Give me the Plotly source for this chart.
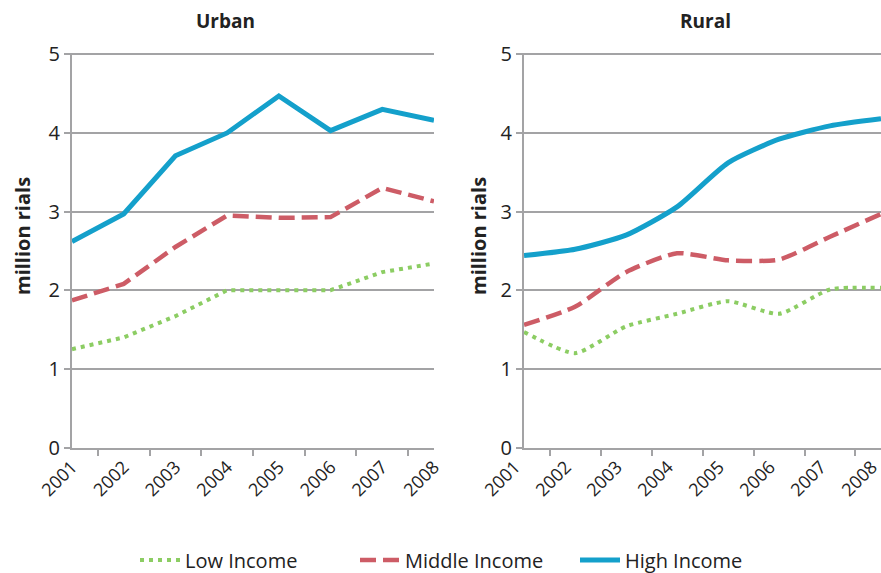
import plotly.graph_objects as go
from plotly.subplots import make_subplots

years = ['2001', '2002', '2003', '2004', '2005', '2006', '2007', '2008']

urban_low = [1.25, 1.40, 1.67, 2.00, 2.00, 2.00, 2.23, 2.34]
urban_middle = [1.87, 2.08, 2.55, 2.95, 2.92, 2.93, 3.30, 3.13]
urban_high = [2.62, 2.97, 3.71, 4.00, 4.47, 4.03, 4.30, 4.16]

rural_low = [1.47, 1.20, 1.54, 1.70, 1.86, 1.70, 2.01, 2.03]
rural_middle = [1.56, 1.79, 2.23, 2.47, 2.38, 2.39, 2.68, 2.97]
rural_high = [2.44, 2.52, 2.70, 3.06, 3.62, 3.92, 4.09, 4.18]

series_names = ['Low Income', 'Middle Income', 'High Income']

GREEN = '#8ccd63'
RED = '#cd5c66'
BLUE = '#14a0cb'
GRID = '#a3a3a5'
FONT = 'Open Sans'

styles = [
    dict(color=GREEN, width=4, dash='4px,5px'),
    dict(color=RED, width=4.5, dash='16px,7px'),
    dict(color=BLUE, width=5, dash='solid'),
]

fig = make_subplots(rows=1, cols=2)

panels = [
    (1, [urban_low, urban_middle, urban_high], 'linear'),
    (2, [rural_low, rural_middle, rural_high], 'spline'),
]
for col, data, shape in panels:
    for name, vals, st in zip(series_names, data, styles):
        fig.add_trace(
            go.Scatter(
                x=years, y=vals, name=name, mode='lines',
                line=dict(shape=shape, smoothing=0.6 if shape == 'spline' else None, **st),
                showlegend=(col == 1),
            ),
            row=1, col=col,
        )

axis_x = dict(
    type='category', showgrid=False, showline=True, linecolor=GRID, linewidth=2,
    ticks='outside', tickson='boundaries', ticklen=6, tickcolor=GRID, tickwidth=2,
    tickangle=-45, tickfont=dict(family=FONT, size=18, color='#222222'),
    automargin=False,
)
axis_y = dict(
    range=[0, 5.02], dtick=1, showgrid=True, gridcolor=GRID, gridwidth=2,
    showline=True, linecolor=GRID, linewidth=2, zeroline=False,
    ticks='outside', ticklen=6, tickcolor=GRID, tickwidth=2,
    tickfont=dict(family=FONT, size=20, color='#222222'),
    automargin=False,
)

fig.update_layout(
    width=881, height=573,
    margin=dict(l=0, r=0, t=0, b=0, autoexpand=False),
    paper_bgcolor='white', plot_bgcolor='white',
    font=dict(family=FONT, color='#222222'),
    xaxis=dict(domain=[0.0817, 0.4926], **axis_x),
    xaxis2=dict(domain=[0.5948, 1.0], ticklabelshift=-9, **axis_x),
    yaxis=dict(domain=[0.219, 0.908], **axis_y),
    yaxis2=dict(domain=[0.219, 0.908], **axis_y),
    legend=dict(
        orientation='h', x=135 / 881, xanchor='left', y=1 - 560 / 573, yanchor='middle',
        font=dict(family=FONT, size=20, color='#222222'),
        itemwidth=40, tracegroupgap=0, entrywidth=165,
    ),
    annotations=[
        dict(text='<b>Urban</b>', x=225 / 881, y=1 - 21 / 573, xref='paper', yref='paper',
             xanchor='center', yanchor='middle', showarrow=False, font=dict(size=19)),
        dict(text='<b>Rural</b>', x=705 / 881, y=1 - 21 / 573, xref='paper', yref='paper',
             xanchor='center', yanchor='middle', showarrow=False, font=dict(size=19)),
        dict(text='<b>million rials</b>', x=22 / 881, y=1 - 236 / 573, xref='paper', yref='paper',
             xanchor='center', yanchor='middle', showarrow=False, textangle=-90, font=dict(size=20)),
        dict(text='<b>million rials</b>', x=478 / 881, y=1 - 236 / 573, xref='paper', yref='paper',
             xanchor='center', yanchor='middle', showarrow=False, textangle=-90, font=dict(size=20)),
    ],
)

fig.write_html('out.html', config={'displayModeBar': False},
               post_script="document.body.style.margin='0';")
